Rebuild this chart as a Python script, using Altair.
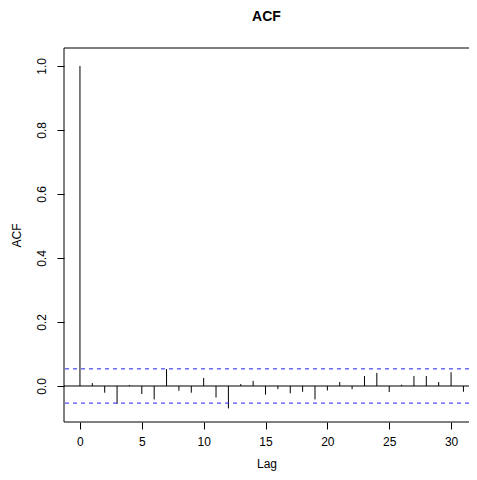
import altair as alt
import pandas as pd

lags = list(range(0, 32))
acf_values = [1.0, 0.009, -0.021, -0.056, 0.003, -0.025, -0.042, 0.053,
              -0.015, -0.021, 0.025, -0.036, -0.070, 0.006, 0.016, -0.027,
              -0.010, -0.023, -0.018, -0.042, -0.014, 0.0125, -0.010, 0.031,
              0.041, -0.019, 0.004, 0.031, 0.031, 0.0125, 0.043, -0.018]
conf_limit = 0.0535

df = pd.DataFrame({"lag": lags, "acf": acf_values})
ci = pd.DataFrame({"y": [conf_limit, -conf_limit]})

font = "Liberation Sans"
W, H = 405, 374

x_scale = alt.Scale(domain=[-1.29, 31.45], nice=False, zero=False)
y_scale = alt.Scale(domain=[-0.1125, 1.056], nice=False, zero=False)

bars = alt.Chart(df).mark_rule(color="black", strokeWidth=1).encode(
    x=alt.X("lag:Q", scale=x_scale,
            axis=alt.Axis(values=[0, 5, 10, 15, 20, 25, 30], format="d",
                          title="Lag", grid=False, domain=False,
                          tickSize=7, tickColor="black", labelPadding=7,
                          labelFont=font, labelFontSize=12, labelColor="black",
                          titleFont=font, titleFontSize=12, titleFontWeight="normal",
                          titleColor="black", titleY=41, titleBaseline="middle")),
    y=alt.Y("acf:Q", scale=y_scale,
            axis=alt.Axis(values=[0, 0.2, 0.4, 0.6, 0.8, 1.0], format=".1f",
                          title="ACF", grid=False, domain=False,
                          tickSize=7, tickColor="black",
                          labelAngle=270, labelAlign="center", labelBaseline="bottom",
                          labelPadding=9,
                          labelFont=font, labelFontSize=12, labelColor="black",
                          titleFont=font, titleFontSize=12, titleFontWeight="normal",
                          titleColor="black", titleX=-41)),
    y2=alt.datum(0),
)

zero = alt.Chart(pd.DataFrame({"y": [0]})).mark_rule(color="black", strokeWidth=1).encode(
    y=alt.Y("y:Q", scale=y_scale)
)

dashed = alt.Chart(ci).mark_rule(color="#2020ff", strokeWidth=1, strokeDash=[4, 4]).encode(
    y=alt.Y("y:Q", scale=y_scale)
)

frame_top = alt.Chart().mark_rule(color="black", strokeWidth=1).encode(
    x=alt.value(0), x2=alt.value(W + 10), y=alt.value(0))
frame_bottom = alt.Chart().mark_rule(color="black", strokeWidth=1).encode(
    x=alt.value(0), x2=alt.value(W + 10), y=alt.value(H))
frame_left = alt.Chart().mark_rule(color="black", strokeWidth=1).encode(
    x=alt.value(0), y=alt.value(0), y2=alt.value(H))

chart = alt.layer(bars, zero, dashed, frame_top, frame_bottom, frame_left).properties(
    width=W, height=H,
    title=alt.TitleParams("ACF", font=font, fontSize=14, fontWeight="bold",
                          color="black", anchor="middle", offset=24),
    autosize="none",
    padding={"left": 56, "top": 40, "right": 0, "bottom": 50},
    background="white",
).configure_view(stroke=None)

chart.save("out.html", embed_options={"renderer": "svg", "actions": False})
